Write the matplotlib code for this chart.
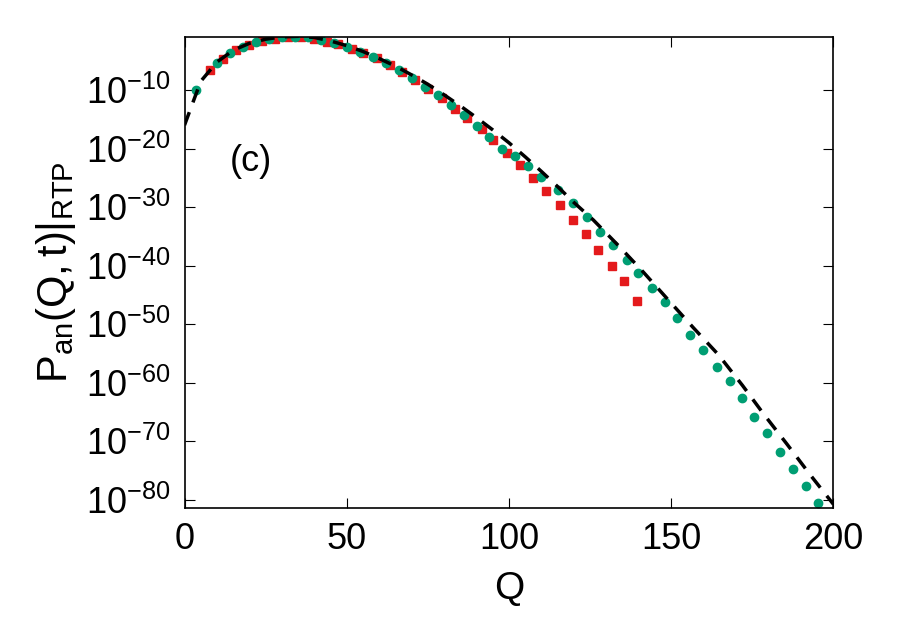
import numpy as np
import matplotlib
matplotlib.use('Agg')
import matplotlib.pyplot as plt

plt.rcParams['font.family'] = 'Liberation Sans'
plt.rcParams['mathtext.fontset'] = 'custom'
plt.rcParams['mathtext.rm'] = 'Liberation Sans'
plt.rcParams['mathtext.it'] = 'Liberation Sans'

# analytic curve (log10 values)
curve_q = [0, 5, 10, 15, 20, 25, 30, 35, 40, 45, 50, 55, 60, 65, 70, 75, 80, 85, 90, 95,
           100, 105, 110, 115, 120, 126, 133.6, 141.4, 149, 156.8, 164.5, 172, 178.4,
           185.8, 192.9, 200]
curve_log = [-16, -8.5, -5.2, -3.2, -2.0, -1.3, -0.9, -0.8, -1.0, -1.6, -2.4, -3.4, -4.6,
             -5.9, -7.4, -9.0, -10.8, -12.7, -14.7, -16.8, -19.0, -21.4, -23.9, -26.5,
             -29.2, -32.2, -36.5, -41.1, -45.8, -50.6, -55.2, -60.5, -65.3, -70.6, -75.8, -80.8]

# red squares
red_q = [8, 12, 16, 20, 24, 28, 32, 36, 40, 43.8, 47.2, 51.5, 55, 59.3, 63.3, 66.9, 71, 75,
         79.3, 83.3, 87, 91.7, 95, 99.4, 103.4, 107.4, 111.5, 115.7, 119.8, 123.8, 127.5,
         131.8, 135.5, 139.5]
red_log = [-6.5, -4.6, -3.2, -2.3, -1.6, -1.2, -1.0, -1.0, -1.3, -1.8, -2.2, -2.9, -3.6,
           -4.5, -5.7, -6.9, -8.3, -9.8, -11.4, -13.2, -14.8, -16.7, -18.5, -20.8, -22.8,
           -25.0, -27.3, -29.6, -32.2, -34.6, -37.3, -40.0, -42.6, -46.0]

# green circles
green_q = [3.5, 10, 14, 18, 22, 26, 30, 34, 38, 42, 46, 50, 54, 58, 62, 66, 70, 74, 78, 82,
           86, 90, 94, 98, 102, 106, 110, 115, 119.8, 124, 128.1, 132.1, 136.4, 139.8, 144.1,
           148.1, 151.9, 155.9, 159.9, 164.2, 168.2, 171.9, 175.6, 179.6, 183.6, 187.7,
           191.7, 195.4]
green_log = [-10, -5.4, -3.7, -2.6, -1.8, -1.3, -1.0, -0.9, -1.0, -1.4, -1.9, -2.6, -3.4,
             -4.3, -5.4, -6.6, -7.9, -9.4, -10.9, -12.6, -14.3, -16.2, -18.1, -20.1, -21.2,
             -23.0, -24.9, -27.0, -29.3, -31.7, -34.2, -36.5, -39.0, -41.2, -43.8, -46.3,
             -48.9, -51.8, -54.4, -57.3, -59.8, -62.7, -65.8, -68.7, -71.8, -74.7, -77.7, -80.5]

fig = plt.figure(figsize=(9, 6.3), dpi=100)
ax = fig.add_axes([0.205, 0.194, 0.721, 0.747])

ax.plot(red_q, 10.0 ** np.array(red_log), 's', color='#e41a1c', markersize=6)
ax.plot(green_q, 10.0 ** np.array(green_log), 'o', color='#009e73', markersize=6)
ax.plot(curve_q, 10.0 ** np.array(curve_log), '--', color='black', linewidth=2.5, dashes=(4, 3))

ax.set_yscale('log')
ax.set_xlim(0, 200)
ax.set_ylim(10 ** -81.4, 10 ** -0.95)
ax.set_yticks([10.0 ** -e for e in range(10, 90, 10)])
ax.set_yticklabels([r'$\mathrm{10^{-%d}}$' % e for e in range(10, 90, 10)])
ax.yaxis.set_minor_locator(matplotlib.ticker.NullLocator())
ax.set_xticks([0, 50, 100, 150, 200])
ax.tick_params(direction='in', top=True, right=True, labelsize=26, length=7, pad=10)
ax.set_xlabel('Q', fontsize=28, labelpad=10)
ax.set_ylabel(r'$\mathrm{P_{an}(Q,t)|_{RTP}}$', fontsize=30, labelpad=6)
ax.text(0.07, 0.715, '(c)', transform=ax.transAxes, fontsize=26)
for s in ax.spines.values():
    s.set_linewidth(1.2)

fig.savefig('out.png', dpi=100)
